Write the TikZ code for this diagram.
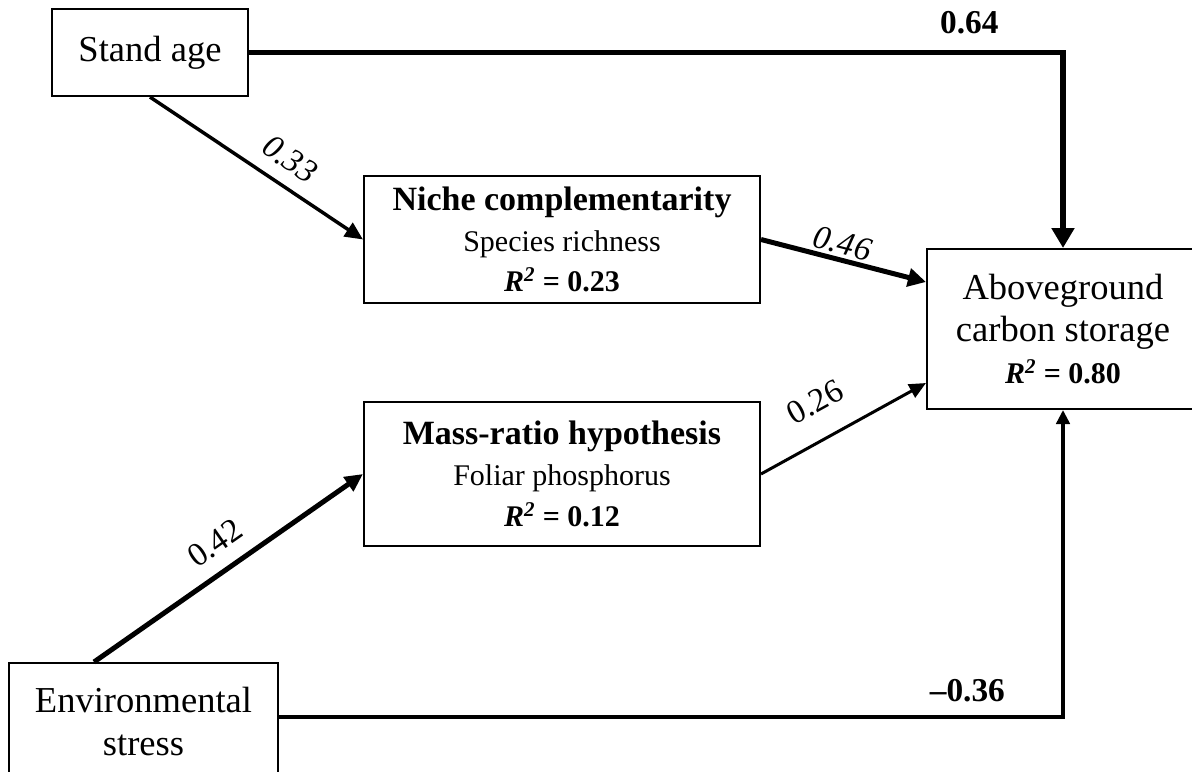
\documentclass[tikz,border=0pt]{standalone}
\usepackage{fontspec}
\setmainfont{Liberation Serif}
\usetikzlibrary{arrows.meta,calc}
\newcommand{\pxl}{0.75pt}
\begin{document}
\begin{tikzpicture}[x=0.75pt,y=-0.75pt,
  box/.style={draw=black, line width=1.5pt, rectangle, inner sep=0pt, align=center},
  bigtxt/.style={font=\fontsize{27.4}{32}\selectfont},
  midtxt/.style={font=\fontsize{22.5}{30.5}\selectfont},
  lab/.style={inner sep=0pt, font=\fontsize{25}{28}\selectfont},
  conn/.style={draw=black, line join=miter},
]
\fill[white] (0,0) rectangle (1192,771);
\useasboundingbox (0,0) rectangle (1192,771);

% boxes
\node[box, bigtxt, minimum width=196*\pxl, minimum height=87*\pxl] (stand) at (150,52.5) {Stand age};
\node[box, midtxt, minimum width=396*\pxl, minimum height=127*\pxl] (niche) at (562,239.5)
  {{\fontsize{25.5}{30.5}\selectfont\bfseries Niche complementarity}\\
   Species richness\\
   {\bfseries\itshape R\textsuperscript{2}\upshape\ = 0.23}};
\node[box, midtxt, minimum width=396*\pxl, minimum height=144*\pxl] (mass) at (562,474)
  {{\fontsize{25.5}{30.5}\selectfont\bfseries Mass-ratio hypothesis}\\
   Foliar phosphorus\\
   {\bfseries\itshape R\textsuperscript{2}\upshape\ = 0.12}};
\node[box, font=\fontsize{27.4}{31.5}\selectfont, minimum width=272*\pxl, minimum height=160*\pxl] (ag) at (1063,329)
  {Aboveground\\ carbon storage\\
   {\fontsize{22.5}{30}\selectfont\bfseries\itshape R\textsuperscript{2}\upshape\ = 0.80}};
\node[box, bigtxt, minimum width=269*\pxl, minimum height=117*\pxl] (env) at (143.5,721.5)
  {Environmental\\ stress};

% connectors
\draw[conn, line width=4.1pt, -{Triangle[width=16.5pt,length=15pt]}]
  (stand.east) -| node[lab, pos=0.4425, above=12pt]{\bfseries 0.64} (ag.north);
\draw[conn, line width=2.6pt, -{Triangle[width=12pt,length=13.5pt]}]
  (stand.south) -- node[lab, sloped, pos=0.59, above=10pt]{\itshape 0.33} (niche.west);
\draw[conn, line width=3.75pt, -{Triangle[width=13.5pt,length=13.5pt]}]
  (niche.east) -- node[lab, sloped, pos=0.47, above=2pt]{\itshape 0.46} ($(ag.north west)+(0,34)$);
\draw[conn, line width=2.25pt, -{Triangle[width=11pt,length=12.5pt]}]
  (mass.east) -- node[lab, sloped, pos=0.435, above=18pt]{0.26} ($(ag.south west)+(0,-27)$);
\draw[conn, line width=3.75pt, -{Triangle[width=12.5pt,length=13.5pt]}]
  ($(env.north west)+(86,0)$) -- node[lab, sloped, pos=0.51, above=10.8pt]{0.42} (mass.west);
\draw[conn, line width=3pt, -{Triangle[width=10pt,length=10.5pt]}]
  ($(env.north east)+(0,55)$) -| node[lab, pos=0.439, above=10pt]{\bfseries –0.36} (ag.south);
\end{tikzpicture}
\end{document}
